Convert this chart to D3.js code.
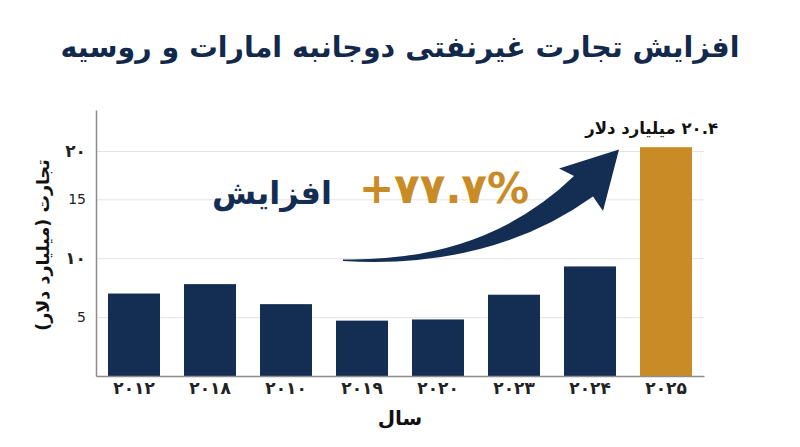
<!DOCTYPE html>
<html lang="fa">
<head>
<meta charset="utf-8">
<script src="https://cdn.jsdelivr.net/npm/d3@7"></script>
<style>
  html, body { margin: 0; padding: 0; background: #fff; }
  svg { display: block; font-family: "DejaVu Sans", "Noto Sans", sans-serif; }
</style>
</head>
<body>
<svg width="800" height="447"></svg>
<script>
// data
const years = ["۲۰۱۲", "۲۰۱۸", "۲۰۱۰", "۲۰۱۹", "۲۰۲۰", "۲۰۲۳", "۲۰۲۴", "۲۰۲۵"];
const tradeValues = [7.0, 7.8, 6.1, 4.7, 4.8, 6.9, 9.3, 20.4];
const yTicks = [5, 10, 15, 20];
const yTickLabels = ["5", "۱۰", "15", "۲۰"];
const titleText = "افزایش تجارت غیرنفتی دوجانبه امارات و روسیه";
const yTitle = "تجارت (میلیارد دلار)";
const xTitle = "سال";
const valueNote = "۲۰.۴ میلیارد دلار";
const growthText = "+۷۷.۷%";
const growthWord = "افزایش";

const navy = "#142d52";
const gold = "#c98b25";

const svg = d3.select("svg"),
  width = +svg.attr("width"),
  height = +svg.attr("height");

const margin = {top: 110, right: 96, bottom: 71, left: 96};

// x: band scale
const x = d3.scaleBand()
  .domain(years)
  .range([margin.left, width - margin.right])
  .paddingInner(0.316)
  .paddingOuter(0.158);

// y: the picture's axis is stretched near the top, so use a piecewise scale
const y = d3.scaleLinear()
  .domain([0, 15, 20, 24.3])
  .range([height - margin.bottom, 199.3, 151, margin.top]);

// gridlines
svg.append("g")
  .attr("transform", `translate(${margin.left},0)`)
  .call(d3.axisLeft(y).tickValues(yTicks).tickSize(-(width - margin.left - margin.right)).tickFormat(""))
  .call(g => g.select(".domain").remove())
  .call(g => g.selectAll("line").attr("stroke", "#e4e4e4").attr("stroke-width", 1));

// bars
svg.append("g")
  .selectAll("rect")
  .data(tradeValues)
  .join("rect")
    .attr("x", (d, i) => x(years[i]))
    .attr("width", x.bandwidth())
    .attr("y", d => y(d))
    .attr("height", d => y(0) - y(d))
    .attr("fill", (d, i) => i === years.length - 1 ? gold : navy);

// y axis
svg.append("g")
  .attr("transform", `translate(${margin.left},0)`)
  .call(d3.axisLeft(y).tickValues(yTicks).tickSize(0).tickPadding(10)
    .tickFormat((d, i) => yTickLabels[i]))
  .call(g => g.select(".domain").attr("stroke", "#8c8c8c").attr("stroke-width", 1.5))
  .call(g => g.selectAll("text")
    .attr("font-family", "DejaVu Sans, sans-serif")
    .attr("font-size", d => d === 5 || d === 15 ? 14 : 17)
    .attr("font-weight", d => d === 5 || d === 15 ? "normal" : "bold")
    .attr("fill", "#222"));

// x axis
svg.append("g")
  .attr("transform", `translate(0,${y(0)})`)
  .call(d3.axisBottom(x).tickSize(0).tickPadding(6).tickSizeOuter(0))
  .call(g => g.select(".domain").attr("stroke", "#8c8c8c").attr("stroke-width", 1.5))
  .call(g => g.selectAll("text")
    .attr("font-family", "DejaVu Sans, sans-serif")
    .attr("font-size", 17)
    .attr("font-weight", "bold")
    .attr("fill", "#222"));

// title
svg.append("text")
  .attr("x", width / 2)
  .attr("y", 57)
  .attr("text-anchor", "middle")
  .attr("direction", "rtl")
  .attr("font-size", 28.5)
  .attr("font-weight", "bold")
  .attr("fill", "#13294b")
  .text(titleText);

// axis titles
svg.append("text")
  .attr("transform", `translate(49,${(y(0) + margin.top) / 2 + 2}) rotate(-90)`)
  .attr("text-anchor", "middle")
  .attr("direction", "rtl")
  .attr("font-size", 17.5)
  .attr("font-weight", "bold")
  .attr("fill", "#111")
  .text(yTitle);

svg.append("text")
  .attr("x", (margin.left + width - margin.right) / 2)
  .attr("y", 425)
  .attr("text-anchor", "middle")
  .attr("direction", "rtl")
  .attr("font-size", 20)
  .attr("font-weight", "bold")
  .attr("fill", "#111")
  .text(xTitle);

// value note above the last bar
const last = years[years.length - 1];
svg.append("text")
  .attr("x", x(last) + x.bandwidth() + 26)
  .attr("y", y(tradeValues[tradeValues.length - 1]) - 13)
  .attr("text-anchor", "start")
  .attr("direction", "rtl")
  .attr("font-size", 16.5)
  .attr("font-weight", "bold")
  .attr("fill", "#111")
  .text(valueNote);

// growth labels
svg.append("text")
  .attr("x", 444)
  .attr("y", 203)
  .attr("text-anchor", "middle")
  .attr("direction", "ltr")
  .attr("font-size", 42)
  .attr("font-weight", "bold")
  .attr("fill", gold)
  .text(growthText);

svg.append("text")
  .attr("x", 272)
  .attr("y", 204)
  .attr("text-anchor", "middle")
  .attr("direction", "rtl")
  .attr("font-size", 32)
  .attr("font-weight", "bold")
  .attr("fill", navy)
  .text(growthWord);

// curved arrow, anchored on the scales
const tail = [x(years[3]) + 7, y(9.9)];
const upJoin = [x(years[7]) - 66, y(17.4)];
const lowJoin = [x(years[7]) - 47, y(15.3)];
const barbL = [x(years[7]) - 81, y(18.2)];
const barbR = [x(years[7]) - 37, y(14.0)];
const tip = [x(years[7]) - 21, y(20.15)];

const arrow = d3.path();
arrow.moveTo(tail[0], tail[1]);
arrow.quadraticCurveTo(485, 262, upJoin[0], upJoin[1]);
arrow.lineTo(barbL[0], barbL[1]);
arrow.lineTo(tip[0], tip[1]);
arrow.lineTo(barbR[0], barbR[1]);
arrow.lineTo(lowJoin[0], lowJoin[1]);
arrow.quadraticCurveTo(490, 270, tail[0], tail[1] + 1.5);
arrow.closePath();

svg.append("path")
  .attr("d", arrow.toString())
  .attr("fill", navy);
</script>
</body>
</html>
